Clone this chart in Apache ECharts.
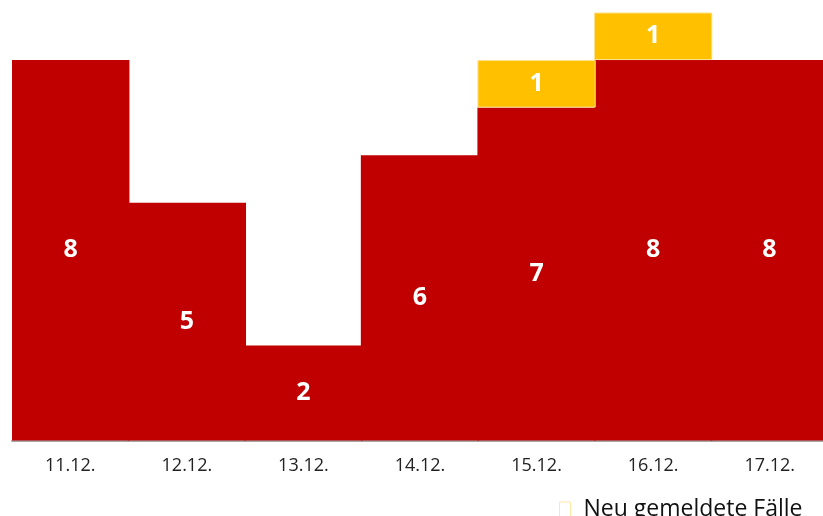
<!DOCTYPE html>
<html><head><meta charset="utf-8">
<script src="https://cdn.jsdelivr.net/npm/echarts@6/dist/echarts.min.js"></script>
<style>html,body{margin:0;padding:0;background:#fff;overflow:hidden}#c{width:828px;height:516px}</style>
</head><body><div id="c"></div>
<script>
const categories = ['11.12.','12.12.','13.12.','14.12.','15.12.','16.12.','17.12.'];
const baseCases = [8,5,2,6,7,8,8];
const newCases = [null,null,null,null,1,1,null];
const legendName = 'Neu gemeldete Fälle';

const chart = echarts.init(document.getElementById('c'));
const font = '"Open Sans", "Noto Sans", sans-serif';
chart.setOption({
  animation:false,
  grid:{left:12, top:12.5, width:816, height:428, containLabel:false},
  legend:{
    data:[{name:legendName, icon:'rect', itemStyle:{color:'#fff', borderColor:'#ffe7a6', borderWidth:1}}],
    left:554, top:493, itemWidth:11, itemHeight:15, itemGap:8,
    textStyle:{fontFamily:font, fontSize:23, color:'#111', padding:[0,0,0,8]}
  },
  xAxis:{type:'category', data:categories,
    axisLine:{lineStyle:{color:'#a6a6a6', width:2}}, axisTick:{show:false},
    splitLine:{show:false}, splitArea:{show:false},
    axisLabel:{fontFamily:font, fontSize:18, color:'#222', margin:16}},
  yAxis:{type:'value', min:0, max:9, show:false, splitLine:{show:false}},
  series:[
    {name:'Fälle', type:'bar', stack:'a', data:baseCases, barWidth:'101.5%',
     itemStyle:{color:'#c00000'},
     label:{show:true, position:'inside', color:'#fff', fontFamily:font, fontWeight:'bold', fontSize:25}},
    {name:legendName, type:'bar', stack:'a', data:newCases, barWidth:'101.5%',
     itemStyle:{color:'#ffc000', borderColor:'#ffe08a', borderWidth:1},
     label:{show:true, position:'inside', color:'#fff', fontFamily:font, fontWeight:'bold', fontSize:25}}
  ]
});
</script></body></html>
